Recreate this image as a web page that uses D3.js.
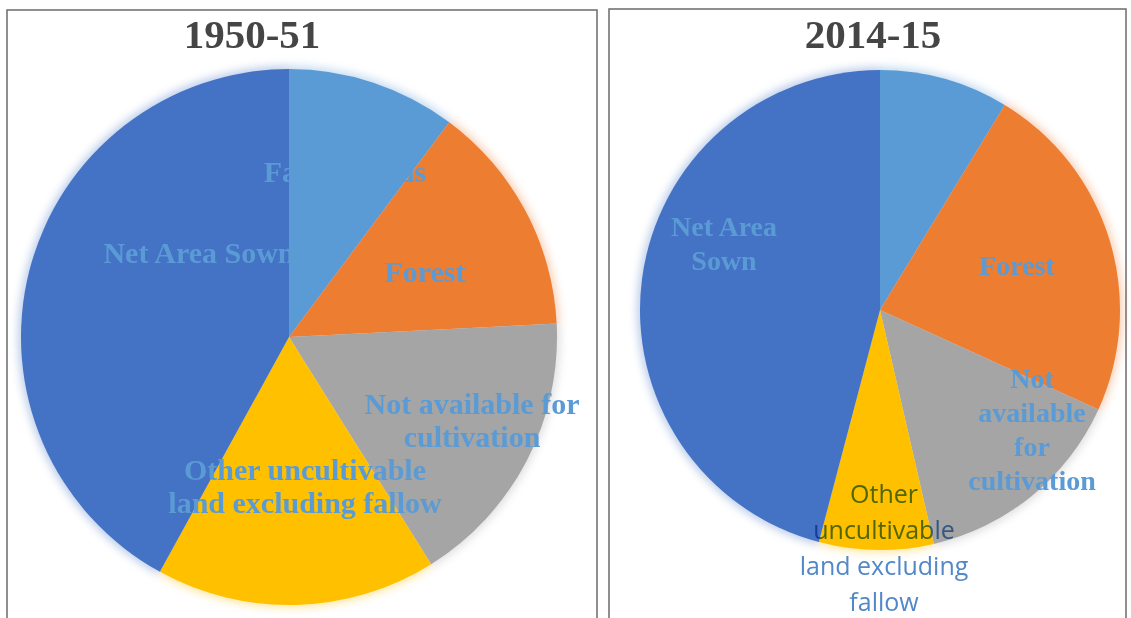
<!DOCTYPE html>
<html>
<head>
<meta charset="utf-8">
<script src="https://cdn.jsdelivr.net/npm/d3@7/dist/d3.min.js"></script>
<style>
  body { margin: 0; background: #fff; }
  svg { display: block; }
</style>
</head>
<body>
<svg id="chart" width="1131" height="618"></svg>
<script>
// Land-use shares (% of reporting area), clockwise from 12 o'clock
const categories = [
  "Fallow lands",
  "Forest",
  "Not available for cultivation",
  "Other uncultivable land excluding fallow",
  "Net Area Sown"
];
const years = ["1950-51", "2014-15"];
const share1950 = [10.2, 14.0, 16.9, 16.9, 42.0];
const share2014 = [8.7, 23.1, 14.6, 7.7, 45.9];
const sliceColors = ["#5B9BD5", "#ED7D31", "#A5A5A5", "#FFC000", "#4472C4"];

// Wrapped label text for each panel (empty = no label shown)
const labels1950 = [
  ["Fallow lands"],
  ["Forest"],
  ["Not available for", "cultivation"],
  ["Other uncultivable", "land excluding fallow"],
  ["Net Area Sown"]
];
const labels2014 = [
  [],
  ["Forest"],
  ["Not", "available", "for", "cultivation"],
  ["Other", "uncultivable", "land excluding", "fallow"],
  ["Net Area", "Sown"]
];

// Panel layout: frame, pie geometry, title and label placement
const panels = [
  {
    year: years[0], values: share1950, labels: labels1950,
    frame: { x: 7, y: 10, w: 590, h: 640 },
    cx: 289, cy: 337, r: 268, titleX: 252,
    labelFont: ["serif", "serif", "serif", "serif", "serif"],
    labelSize: 30, lineH: 33,
    labelPos: [[56, -165], [136, -65], [183, 83], [16, 149], [-90, -84]]
  },
  {
    year: years[1], values: share2014, labels: labels2014,
    frame: { x: 609, y: 9, w: 517, h: 640 },
    cx: 880, cy: 310, r: 240, titleX: 873,
    labelFont: ["serif", "serif", "serif", "sans", "serif"],
    labelSize: 28, lineH: 34,
    labelPos: [[40, -170], [137, -45], [152, 119], [4, 238], [-156, -67]]
  }
];

const svg = d3.select("#chart");
const defs = svg.append("defs");
defs.append("filter").attr("id", "glow")
  .attr("x", "-10%").attr("y", "-10%").attr("width", "120%").attr("height", "120%")
  .append("feGaussianBlur").attr("stdDeviation", 4);

const pie = d3.pie().sort(null).value(d => d);
const color = d3.scaleOrdinal().domain(categories).range(sliceColors);

panels.forEach(p => {
  const g = svg.append("g");

  // Panel frame
  g.append("rect")
    .attr("x", p.frame.x).attr("y", p.frame.y)
    .attr("width", p.frame.w).attr("height", p.frame.h)
    .attr("fill", "#fff").attr("stroke", "#6b6b6b").attr("stroke-width", 1.5);

  // Title
  g.append("text")
    .attr("x", p.titleX).attr("y", 48)
    .attr("text-anchor", "middle")
    .attr("font-family", "'Liberation Serif', 'Times New Roman', serif")
    .attr("font-weight", "bold").attr("font-size", 41)
    .attr("fill", "#454545")
    .text(p.year);

  const arcs = pie(p.values);
  const arc = d3.arc().innerRadius(0).outerRadius(p.r);
  const pieG = g.append("g").attr("transform", `translate(${p.cx},${p.cy})`);

  // Soft halo behind the pie
  pieG.append("g").attr("filter", "url(#glow)").attr("opacity", 0.35)
    .selectAll("path").data(arcs).join("path")
    .attr("d", d3.arc().innerRadius(0).outerRadius(p.r + 3))
    .attr("fill", (d, i) => color(categories[i]));

  pieG.selectAll("path.slice").data(arcs).join("path")
    .attr("class", "slice")
    .attr("d", arc)
    .attr("fill", (d, i) => color(categories[i]));

  // Data labels
  p.labels.forEach((lines, i) => {
    if (!lines.length) return;
    const [dx, dy] = p.labelPos[i];
    const sans = p.labelFont[i] === "sans";
    const size = sans ? 25 : p.labelSize;
    const lh = sans ? 36 : p.lineH;
    const t = pieG.append("text")
      .attr("text-anchor", "middle")
      .attr("font-family", sans ? "'Open Sans', 'Noto Sans', sans-serif"
                                : "'Liberation Serif', 'Times New Roman', serif")
      .attr("font-weight", sans ? "normal" : "bold")
      .attr("font-size", size)
      .attr("fill", sans ? "#5288C8" : "#5B9BD5")
      .style("mix-blend-mode", sans ? "multiply" : "normal");
    const y0 = dy - (lines.length - 1) * lh / 2 + size * 0.34;
    lines.forEach((line, k) => {
      t.append("tspan").attr("x", dx).attr("y", y0 + k * lh).text(line);
    });
  });
});
</script>
</body>
</html>
